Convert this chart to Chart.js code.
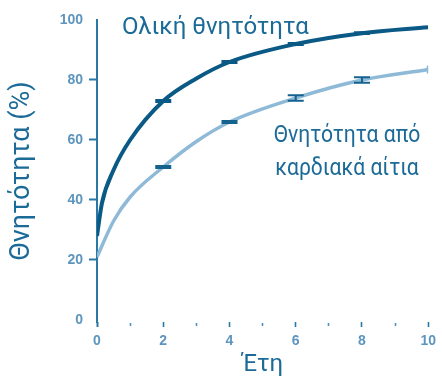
<!DOCTYPE html>
<html>
<head>
<meta charset="utf-8">
<script src="https://cdn.jsdelivr.net/npm/chart.js@4.4.1/dist/chart.umd.min.js"></script>
<style>
  html, body { margin: 0; padding: 0; background: #ffffff; }
  #wrap { width: 442px; height: 380px; }
</style>
</head>
<body>
<div id="wrap"><canvas id="chart" width="442" height="380"></canvas></div>
<script>
// Follow-up time (years) and cumulative mortality (%) for each curve
const totalYears       = [0, 0.15, 0.5, 1, 2, 3, 4, 6, 8, 10];
const totalMortality   = [28, 39, 50, 60, 73, 80.5, 86, 92, 95.6, 97.6];
const cardiacYears     = [0, 0.5, 1, 2, 3, 4, 6, 8, 10];
const cardiacMortality = [21, 33, 41, 51, 59.5, 66, 74, 80, 83.5];

// Confidence half-widths (%) at the marked years
const errorYears   = [2, 4, 6, 8];
const totalError   = [0.3, 0.3, 0.3, 0.3];
const cardiacError = [0.3, 0.3, 0.9, 0.9];

// Axis ticks
const yTicks = [0, 20, 40, 60, 80, 100];
const xTickLabels = ['0', '2', '4', '6', '8', '10'];

// Curve captions
const totalCaption = ['Ολική θνητότητα'];
const cardiacCaption = ['Θνητότητα από', 'καρδιακά αίτια'];

const DARK = '#0b5a86';
const LIGHT = '#8ebad7';
const AXIS = '#2a78a6';
const TICK_TEXT = '#5d95be';
const TEXT = '#1b6a97';

const toPoints = (xs, ys) => xs.map((x, i) => ({ x: x, y: ys[i] }));

// Small capped error bars drawn on top of the curves
const errorBarPlugin = {
  id: 'errorBars',
  afterDatasetsDraw(chart) {
    const { ctx, scales: { x, y } } = chart;
    const sets = [
      { xs: totalYears, values: totalMortality, errs: totalError, color: DARK },
      { xs: cardiacYears, values: cardiacMortality, errs: cardiacError, color: '#14628e' }
    ];
    ctx.save();
    ctx.lineWidth = 2;
    sets.forEach(s => {
      ctx.strokeStyle = s.color;
      errorYears.forEach((yr, i) => {
        const v = s.values[s.xs.indexOf(yr)];
        const e = s.errs[i];
        const px = x.getPixelForValue(yr);
        const top = y.getPixelForValue(v + e);
        const bot = y.getPixelForValue(v - e);
        const half = 8;
        ctx.beginPath();
        ctx.moveTo(px - half, top); ctx.lineTo(px + half, top);
        ctx.moveTo(px - half, bot); ctx.lineTo(px + half, bot);
        ctx.moveTo(px, top); ctx.lineTo(px, bot);
        ctx.stroke();
      });
    });
    ctx.restore();
  }
};

// Captions next to each curve
const captionPlugin = {
  id: 'captions',
  afterDraw(chart) {
    const { ctx } = chart;
    ctx.save();
    ctx.fillStyle = TEXT;
    ctx.font = '24px Roboto';
    ctx.textBaseline = 'alphabetic';
    ctx.textAlign = 'left';
    ctx.fillText(totalCaption[0], 122, 34);
    // the two-line caption is set a little narrower
    ctx.textAlign = 'center';
    ctx.save();
    ctx.translate(347, 0);
    ctx.scale(0.88, 1);
    ctx.fillText(cardiacCaption[0], 0, 142);
    ctx.fillText(cardiacCaption[1], 0, 175);
    ctx.restore();
    ctx.restore();
  }
};

const lastCardiac = cardiacYears.length - 1;

new Chart(document.getElementById('chart'), {
  type: 'line',
  data: {
    datasets: [
      {
        label: totalCaption[0],
        data: toPoints(totalYears, totalMortality),
        borderColor: DARK,
        borderWidth: 4,
        pointRadius: 0,
        cubicInterpolationMode: 'monotone',
        fill: false
      },
      {
        label: cardiacCaption.join(' '),
        data: toPoints(cardiacYears, cardiacMortality),
        borderColor: LIGHT,
        borderWidth: 3.5,
        pointStyle: 'line',
        rotation: 90,
        pointRadius: c => (c.dataIndex === lastCardiac ? 4 : 0),
        pointBorderColor: LIGHT,
        pointBorderWidth: 3,
        cubicInterpolationMode: 'monotone',
        fill: false
      }
    ]
  },
  options: {
    responsive: false,
    animation: false,
    events: [],
    layout: { padding: { top: 20, right: 12, left: 0, bottom: 0 } },
    plugins: { legend: { display: false }, tooltip: { enabled: false } },
    scales: {
      x: {
        type: 'linear',
        min: 0,
        max: 10,
        border: { display: false },
        grid: {
          drawOnChartArea: false,
          drawTicks: true,
          tickLength: 5,
          tickColor: c => (c.tick && c.tick.value % 2 === 0 ? AXIS : '#4f8fbb'),
          tickWidth: c => (c.tick && c.tick.value === 0 ? 2 : 1.6),
          tickBorderDash: c => (c.tick && c.tick.value % 2 === 0 ? [] : [0, 1, 3, 20])
        },
        ticks: {
          stepSize: 1,
          autoSkip: false,
          maxRotation: 0,
          padding: 6,
          color: TICK_TEXT,
          font: { family: 'Liberation Sans', size: 14, weight: 'bold' },
          callback: v => (v % 2 === 0 ? xTickLabels[v / 2] : '')
        },
        title: {
          display: true,
          text: 'Έτη',
          color: TEXT,
          font: { family: 'Roboto', size: 24 },
          padding: { top: 0, bottom: 1 }
        },
        afterFit: s => { s.height = 58; }
      },
      y: {
        min: -0.67,
        max: 100,
        afterBuildTicks: s => { s.ticks = yTicks.map(v => ({ value: v })); },
        border: { display: true, color: AXIS, width: 2 },
        grid: {
          drawOnChartArea: false,
          drawTicks: true,
          tickLength: 8,
          tickWidth: 2,
          tickColor: c => (c.tick && (c.tick.value === 100 || c.tick.value === 0) ? 'rgba(0,0,0,0)' : AXIS)
        },
        ticks: {
          padding: 6,
          color: TICK_TEXT,
          font: { family: 'Liberation Sans', size: 14, weight: 'bold' }
        },
        title: {
          display: true,
          text: 'Θνητότητα (%)',
          color: TEXT,
          font: { family: 'Roboto', size: 27 },
          padding: { top: 6, bottom: 0 }
        },
        afterFit: s => { s.width = 97; }
      }
    }
  },
  plugins: [errorBarPlugin, captionPlugin]
});
</script>
</body>
</html>
